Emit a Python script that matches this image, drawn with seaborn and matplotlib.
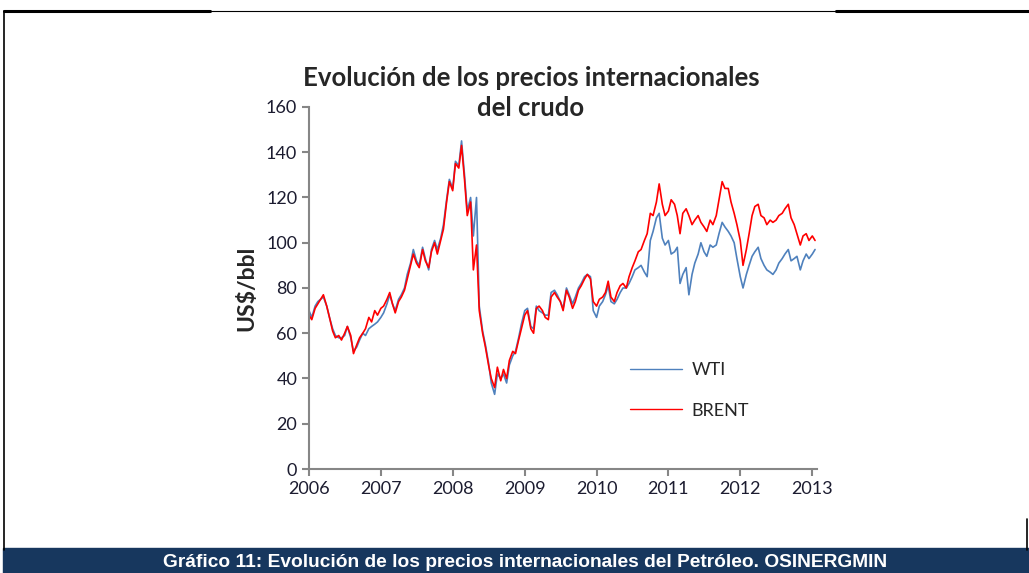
import numpy as np
import pandas as pd
import seaborn as sns
import matplotlib
matplotlib.use("Agg")
from matplotlib import pyplot as plt
import matplotlib.dates as mdates
from matplotlib.lines import Line2D

#%%

# semi-monthly readings, US$/bbl
brent = [68, 66, 71, 73, 75, 77, 72, 67, 61, 58, 59, 57, 60, 63, 59, 51, 55, 58, 60, 62,
         67, 65, 70, 68, 71, 72, 75, 78, 73, 69, 74, 76, 79, 84, 90, 95, 91, 89, 97, 92,
         89, 96, 100, 95, 101, 106, 118, 127, 123, 135, 133, 143, 128, 112, 118, 88, 99, 70, 60, 54,
         46, 40, 36, 45, 39, 44, 40, 48, 52, 51, 57, 62, 68, 70, 62, 60, 71, 72, 70, 67,
         66, 76, 78, 76, 74, 70, 79, 76, 71, 74, 79, 81, 84, 86, 84, 74, 72, 75, 76, 78,
         83, 76, 74, 78, 81, 82, 80, 85, 89, 92, 96, 97, 101, 104, 113, 112, 118, 126, 117, 112,
         114, 119, 117, 112, 104, 113, 115, 112, 108, 110, 112, 109, 107, 105, 110, 108, 112, 119, 127, 124,
         124, 118, 113, 108, 101, 90, 97, 104, 112, 116, 117, 112, 111, 108, 110, 109, 110, 112, 113, 115,
         117, 111, 108, 104, 99, 103, 104, 101, 103, 101]
wti = [70, 67, 72, 74, 75, 76, 72, 67, 62, 59, 58, 58, 59, 63, 58, 52, 54, 57, 60, 59,
       62, 63, 64, 65, 67, 69, 73, 77, 73, 70, 75, 77, 80, 86, 91, 97, 92, 90, 98, 93,
       88, 97, 101, 97, 102, 108, 119, 128, 124, 136, 134, 145, 130, 114, 120, 103, 120, 72, 61, 55,
       47, 38, 33, 42, 40, 42, 38, 46, 50, 52, 58, 64, 70, 71, 63, 62, 72, 70, 69, 68,
       68, 78, 79, 77, 74, 71, 80, 77, 73, 76, 80, 82, 85, 86, 85, 70, 67, 72, 74, 77,
       81, 74, 73, 75, 78, 80, 80, 82, 85, 88, 89, 90, 87, 85, 101, 105, 111, 113, 102, 99,
       101, 95, 96, 98, 82, 86, 89, 77, 86, 91, 95, 100, 96, 94, 99, 98, 99, 104, 109, 107,
       105, 103, 100, 93, 85, 80, 86, 90, 94, 96, 98, 93, 90, 88, 87, 86, 88, 91, 93, 95,
       97, 92, 93, 94, 88, 92, 95, 93, 95, 97]
series = ["WTI", "BRENT"]
colores = {"WTI": "#4F81BD", "BRENT": "#FF0000"}
years = list(range(2006, 2014))

fechas = pd.date_range("2006-01-01", periods=len(brent), freq="SMS")
df = pd.concat([
    pd.DataFrame({"fecha": fechas, "precio": wti, "serie": "WTI"}),
    pd.DataFrame({"fecha": fechas, "precio": brent, "serie": "BRENT"}),
])

#%%

sns.set_style("white")
plt.rcParams["font.family"] = ["Lato", "DejaVu Sans"]

fig = plt.figure(figsize=(10.29, 5.73), dpi=100)
ax = fig.add_axes([0.3003, 0.1815, 0.4937, 0.6318])

sns.lineplot(data=df, x="fecha", y="precio", hue="serie", hue_order=series,
             palette=colores, linewidth=1.2, legend=False, ax=ax)

ax.set_ylim(0, 160)
ax.set_yticks(range(0, 161, 20))
ax.set_xlim(pd.Timestamp("2006-01-01"), pd.Timestamp("2013-01-25"))
ax.set_xticks([pd.Timestamp(f"{y}-01-01") for y in years])
ax.xaxis.set_major_formatter(mdates.DateFormatter("%Y"))
ax.set_xlabel("")
ax.set_ylabel("US$/bbl", fontsize=16.5, fontweight="bold", labelpad=6)

for s in ["top", "right"]:
    ax.spines[s].set_visible(False)
for s in ["left", "bottom"]:
    ax.spines[s].set_color("#868686")
    ax.spines[s].set_linewidth(1.5)
ax.tick_params(axis="both", direction="out", length=5, width=1.5, color="#868686",
               labelsize=13, labelcolor="#1c1c30", left=True, bottom=True)

handles = [Line2D([], [], color=colores[s], linewidth=1.0) for s in series]
ax.legend(handles, series, loc="upper left", bbox_to_anchor=(0.632, 0.295),
          frameon=False, fontsize=13, handlelength=2.9, handletextpad=0.5,
          labelspacing=1.35, borderpad=0, borderaxespad=0)

fig.text(0.516, 0.838, "Evolución de los precios internacionales\ndel crudo",
         ha="center", va="center", fontsize=18.5, fontweight="bold",
         linespacing=1.3)

# frame and caption band
fig.add_artist(Line2D([0.004, 0.204], [0.981, 0.981], color="black", lw=2.2))
fig.add_artist(Line2D([0.204, 0.812], [0.981, 0.981], color="black", lw=0.8))
fig.add_artist(Line2D([0.812, 1.0], [0.981, 0.981], color="black", lw=2.2))
fig.add_artist(Line2D([0.004, 0.004], [0.04, 0.981], color="black", lw=1.2))
fig.add_artist(Line2D([0.998, 0.998], [0.04, 0.095], color="black", lw=1.2))
fig.add_artist(plt.Rectangle((0.003, 0.0), 0.997, 0.044, color="#17375E"))
fig.text(0.51, 0.004, "Gráfico 11: Evolución de los precios internacionales del Petróleo. OSINERGMIN",
         ha="center", va="bottom", color="white", fontsize=13.8, fontweight="bold",
         family=["Liberation Sans Narrow", "Liberation Sans", "DejaVu Sans"])

fig.savefig("out.png", dpi=100)
